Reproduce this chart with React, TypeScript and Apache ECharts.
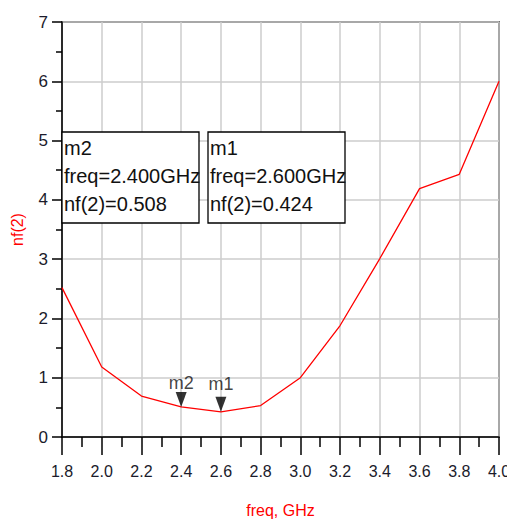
import React, { useEffect, useRef } from "react";
import * as echarts from "echarts";

const freqs = [1.8, 2.0, 2.2, 2.4, 2.6, 2.8, 3.0, 3.2, 3.4, 3.6, 3.8, 4.0];
const nf2 = [2.52, 1.18, 0.69, 0.508, 0.424, 0.53, 1.0, 1.88, 3.01, 4.19, 4.43, 6.0];

const markerNames = ["m2", "m1"];
const markerFreqs = [2.4, 2.6];
const markerValues = [0.508, 0.424];
const markerLabelDist = [0, 4];
const boxLefts = [62, 208];

const xTitle = "freq, GHz";
const yTitle = "nf(2)";

const LABEL_FONT = "'Liberation Sans', Arial, sans-serif";
const TEXT_FONT = "'Liberation Sans', Arial, sans-serif";

export default function App() {
  const ref = useRef<HTMLDivElement>(null);
  useEffect(() => {
    document.body.style.margin = "0";
    const chart = echarts.init(ref.current!, null, { renderer: "svg" });
    const boxes: any[] = [];
    markerNames.forEach((m, i) => {
      boxes.push({
        type: "rect",
        shape: { x: boxLefts[i], y: 132, width: 137, height: 91 },
        style: { fill: "#fff", stroke: "#000", lineWidth: 1.3 },
        z: 10,
      });
      boxes.push({
        type: "text",
        x: boxLefts[i] + 2,
        y: 134,
        style: {
          text: `${m}\nfreq=${markerFreqs[i].toFixed(3)}GHz\nnf(2)=${markerValues[i].toFixed(3)}`,
          fontSize: 20,
          lineHeight: 28,
          fontFamily: TEXT_FONT,
          fill: "#111",
        },
        z: 11,
      });
    });
    chart.setOption({
      animation: false,
      backgroundColor: "#fff",
      grid: {
        left: 62,
        right: 8,
        top: 22,
        bottom: 85,
        outerBoundsMode: "none",
        containLabel: false,
        show: true,
        borderColor: "#000",
        borderWidth: 1.5,
        backgroundColor: "transparent",
      },
      xAxis: {
        type: "value",
        min: 1.8,
        max: 4.0,
        interval: 0.2,
        name: xTitle,
        nameLocation: "middle",
        nameGap: 65,
        nameTextStyle: { color: "#ff0000", fontSize: 16, fontFamily: TEXT_FONT },
        axisLine: { show: true, onZero: false, lineStyle: { color: "#000", width: 1.5 } },
        axisTick: { show: true, inside: false, length: 18, lineStyle: { color: "#000", width: 1.5 } },
        minorTick: { show: true, splitNumber: 2, length: 10, lineStyle: { color: "#000", width: 1.5 } },
        splitLine: { show: true, lineStyle: { color: "#cccccc", width: 1.5 } },
        axisLabel: {
          margin: 26,
          fontSize: 16,
          color: "#1b1b2b",
          fontFamily: LABEL_FONT,
          formatter: (v: number) => v.toFixed(1),
          showMaxLabel: true,
          showMinLabel: true,
        },
      },
      yAxis: {
        type: "value",
        min: 0,
        max: 7,
        interval: 1,
        name: yTitle,
        nameLocation: "middle",
        nameGap: 37,
        nameRotate: 90,
        nameTextStyle: { color: "#ff0000", fontSize: 16, fontFamily: TEXT_FONT },
        axisLine: { show: true, onZero: false, lineStyle: { color: "#000", width: 1.5 } },
        axisTick: { show: true, inside: false, length: 10, lineStyle: { color: "#000", width: 1.5 } },
        minorTick: { show: true, splitNumber: 2, length: 6, lineStyle: { color: "#000", width: 1.5 } },
        splitLine: { show: true, lineStyle: { color: "#cccccc", width: 1.5 } },
        axisLabel: {
          margin: 14,
          fontSize: 17,
          color: "#1b1b2b",
          fontFamily: LABEL_FONT,
        },
      },
      series: [
        {
          type: "line",
          data: freqs.map((f, i) => [f, nf2[i]]),
          showSymbol: false,
          symbol: "none",
          lineStyle: { color: "#ff0000", width: 1.3 },
          z: 3,
        },
        {
          type: "scatter",
          data: markerNames.map((m, i) => ({
            name: m,
            value: [markerFreqs[i], markerValues[i]],
            label: { distance: markerLabelDist[i] },
          })),
          symbol: "triangle",
          symbolRotate: 180,
          symbolSize: [11, 15],
          symbolOffset: [0, -7.5],
          itemStyle: { color: "#000" },
          label: {
            show: true,
            position: "top",
            formatter: (p: any) => p.name,
            fontSize: 18,
            fontFamily: TEXT_FONT,
            color: "#111",
          },
          z: 5,
        },
      ],
      graphic: boxes,
    });
    return () => chart.dispose();
  }, []);
  return <div ref={ref} style={{ width: 507, height: 522 }} />;
}
